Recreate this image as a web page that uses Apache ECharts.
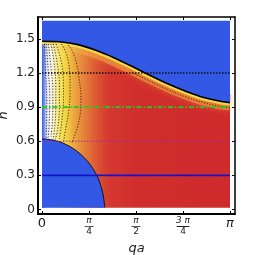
<!DOCTYPE html>
<html><head><meta charset="utf-8">
<script src="https://cdn.jsdelivr.net/npm/echarts@6/dist/echarts.min.js"></script>
<style>html,body{margin:0;padding:0;background:#fff}#c{width:253px;height:255px}</style>
</head><body><div id="c"></div>
<script>
const PI = Math.PI;
// tick positions and labels
const xTicks = [0, PI / 4, PI / 2, 3 * PI / 4, PI];
const xTickLabels = ['0', 'π/4', 'π/2', '3 π/4', 'π'];
const yTicks = [0, 0.3, 0.6, 0.9, 1.2, 1.5];
const yTickLabels = ['0', '0.3', '0.6', '0.9', '1.2', '1.5'];

// upper phase boundary h(qa)
const qaTop = [0, 0.3, 0.6, 0.9, 1.2, 1.5, 1.8, 2.1, 2.4, 2.7, 3.0, PI];
const hTop = [1.48, 1.475, 1.45, 1.40, 1.335, 1.26, 1.18, 1.105, 1.04, 0.985, 0.95, 0.94];

// lower (quarter-circle) phase boundary
const qaCircle = [0, 0.1, 0.2, 0.3, 0.4, 0.5, 0.6, 0.7, 0.8, 0.9, 0.95, 1.0, 1.03, 1.05];
const hCircle = [0.62, 0.617, 0.607, 0.594, 0.572, 0.543, 0.505, 0.458, 0.398, 0.315, 0.26, 0.175, 0.10, 0.015];

// contour lines [qa, h]
const contour1 = [[0.41, 1.465], [0.50, 1.40], [0.58, 1.28], [0.62, 1.15], [0.65, 1.0], [0.64, 0.85], [0.59, 0.72], [0.50, 0.585]];
const contour2 = [[0.30, 1.475], [0.40, 1.38], [0.46, 1.22], [0.47, 1.05], [0.45, 0.88], [0.40, 0.72], [0.36, 0.60]];
const contour3 = [[0.22, 1.478], [0.30, 1.35], [0.35, 1.2], [0.36, 1.0], [0.34, 0.82], [0.29, 0.62]];
const contour4 = [[0.18, 1.478], [0.25, 1.3], [0.29, 1.1], [0.29, 0.9], [0.26, 0.7], [0.22, 0.615]];
const contour5 = [[0.14, 1.479], [0.20, 1.3], [0.23, 1.1], [0.23, 0.9], [0.20, 0.66], [0.18, 0.61]];
const contour6 = [[0.10, 1.48], [0.15, 1.25], [0.18, 1.05], [0.18, 0.85], [0.15, 0.64]];
const contour7 = [[0.07, 1.48], [0.10, 1.25], [0.13, 1.0], [0.12, 0.75], [0.10, 0.62]];
const contour8 = [[0.04, 1.48], [0.06, 1.2], [0.08, 0.95], [0.07, 0.62]];
const contourTop = [[1.5, 1.205], [1.8, 1.13], [2.1, 1.055], [2.4, 0.99], [2.7, 0.94], [3.0, 0.905], [PI, 0.895]];

// horizontal reference cuts
const refLevels = [0.3, 0.6, 0.9, 1.2];
const hMin = 0.015, hMax = 1.66;

const zip = (a, b) => a.map((v, i) => [v, b[i]]);
const topData = zip(qaTop, hTop);
const circleData = zip(qaCircle, hCircle);

const FONT = 'DejaVu Sans';
function xLabel(v) {
  const i = xTicks.findIndex(t => Math.abs(t - v) < 1e-4);
  const s = i >= 0 ? xTickLabels[i] : '';
  if (s.indexOf('/') >= 0) {
    const [num, den] = s.split('/');
    const bar = num.length > 1 ? 'bw' : 'b';
    return '{n|' + num + '}\n{' + bar + '|—}\n{d|' + den + '}';
  }
  if (s === 'π') return '{p|π}';
  return '{z|' + s + '}';
}
function yLabel(v) {
  const i = yTicks.findIndex(t => Math.abs(t - v) < 1e-4);
  return i >= 0 ? yTickLabels[i] : '';
}

const fieldGradient = new echarts.graphic.LinearGradient(0, 0, 1, 0, [
  { offset: 0, color: '#3a5ee0' },
  { offset: 0.012, color: '#7390e8' },
  { offset: 0.025, color: '#dfe5f6' },
  { offset: 0.045, color: '#f8f6ee' },
  { offset: 0.07, color: '#f8f0b0' },
  { offset: 0.095, color: '#f6e460' },
  { offset: 0.13, color: '#f2d040' },
  { offset: 0.165, color: '#eeaa40' },
  { offset: 0.21, color: '#e88a3c' },
  { offset: 0.26, color: '#e06a36' },
  { offset: 0.31, color: '#d94c32' },
  { offset: 0.36, color: '#d4382f' },
  { offset: 0.5, color: '#d02e2d' },
  { offset: 1, color: '#cf2a2c' }
]);
const bandGradient = new echarts.graphic.LinearGradient(0, 0, 1, 0, [
  { offset: 0, color: 'rgba(245,228,130,0.0)' },
  { offset: 0.25, color: 'rgba(240,180,70,0.5)' },
  { offset: 0.5, color: 'rgba(236,140,55,0.75)' },
  { offset: 1, color: 'rgba(236,135,50,0.8)' }
]);
const BLUE = '#3458e6';

function contourSeries(d) {
  return { type: 'line', data: d, smooth: 0.4, symbol: 'none', z: 4, silent: true,
    lineStyle: { color: '#2a1a10', width: 1, type: [1.2, 1.6], opacity: 0.85 } };
}
const refStyles = {
  0.3: { color: '#1414c8', width: 1.6, type: 'solid' },
  0.6: { color: '#9a2aa0', width: 1.1, type: [1.5, 1.5] },
  0.9: { color: '#22cc22', width: 1.6, type: [5, 2, 1.5, 2] },
  1.2: { color: '#111111', width: 1.5, type: [1.5, 1.5] }
};

const series = [
  { type: 'line', data: topData, smooth: 0.3, symbol: 'none', z: 1, silent: true,
    lineStyle: { width: 0 }, areaStyle: { origin: hMin, color: fieldGradient, opacity: 1 } },
  { type: 'line', data: topData, smooth: 0.3, symbol: 'none', z: 2, silent: true,
    lineStyle: { width: 16, color: bandGradient, shadowBlur: 6, shadowColor: 'rgba(236,140,55,0.6)' } },
  { type: 'line', data: topData, smooth: 0.3, symbol: 'none', z: 3, silent: true,
    lineStyle: { width: 6, color: 'rgba(244,222,80,0.9)' } },
  contourSeries(contour1), contourSeries(contour2), contourSeries(contour3), contourSeries(contour4),
  contourSeries(contour5), contourSeries(contour6), contourSeries(contour7), contourSeries(contour8),
  contourSeries(contourTop),
  { type: 'line', data: topData, smooth: 0.3, symbol: 'none', z: 5, silent: true,
    lineStyle: { width: 0 }, areaStyle: { origin: hMax, color: BLUE, opacity: 1 } },
  { type: 'line', data: circleData, smooth: 0.3, symbol: 'none', z: 5, silent: true,
    lineStyle: { width: 1, color: '#111' }, areaStyle: { origin: hMin, color: BLUE, opacity: 1 } },
  { type: 'line', data: topData, smooth: 0.3, symbol: 'none', z: 6, silent: true,
    lineStyle: { width: 1.6, color: '#000' } }
];
refLevels.forEach(h => {
  series.push({ type: 'line', data: [[0, h], [PI, h]], symbol: 'none', z: 7, silent: true,
    lineStyle: refStyles[h] });
});

const xMin = -0.067, xMax = 3.225, yMin = -0.04, yMax = 1.693;
const chart = echarts.init(document.getElementById('c'), null, { renderer: 'canvas' });
chart.setOption({
  animation: false,
  backgroundColor: '#fff',
  grid: { left: 38, top: 17, width: 197, height: 197, show: false, containLabel: false, outerBoundsMode: 'none' },
  xAxis: [
    { type: 'value', min: xMin, max: xMax, position: 'bottom',
      name: 'qa', nameLocation: 'middle', nameGap: 28, nameMoveOverlap: false,
      nameTextStyle: { fontFamily: FONT, fontStyle: 'italic', fontSize: 13, color: '#222' },
      axisLine: { show: true, onZero: false, lineStyle: { color: '#000', width: 2 } },
      axisTick: { show: true, inside: true, length: 3, customValues: xTicks, lineStyle: { color: '#000', width: 1 } },
      axisLabel: { show: true, customValues: xTicks, formatter: xLabel, margin: 3, color: '#222',
        fontFamily: FONT, fontSize: 12,
        rich: {
          n: { fontFamily: FONT, fontSize: 9, lineHeight: 8, fontStyle: 'italic', color: '#222' },
          d: { fontFamily: FONT, fontSize: 9, lineHeight: 8, color: '#222' },
          b: { fontFamily: FONT, fontSize: 10, lineHeight: 3, color: '#222' },
          bw: { fontFamily: FONT, fontSize: 14, lineHeight: 3, color: '#222' },
          p: { fontFamily: FONT, fontSize: 13, lineHeight: 13, fontStyle: 'italic', color: '#222' },
          z: { fontFamily: FONT, fontSize: 13, lineHeight: 13, color: '#222' }
        } },
      splitLine: { show: false } },
    { type: 'value', min: xMin, max: xMax, position: 'top',
      axisLine: { show: true, onZero: false, lineStyle: { color: '#000', width: 1.5 } },
      axisTick: { show: true, inside: true, length: 3, customValues: xTicks, lineStyle: { color: '#000' } },
      axisLabel: { show: false }, splitLine: { show: false } }
  ],
  yAxis: [
    { type: 'value', min: yMin, max: yMax, position: 'left',
      name: 'h', nameLocation: 'middle', nameGap: 28, nameMoveOverlap: false,
      nameTextStyle: { fontFamily: FONT, fontStyle: 'italic', fontSize: 13, color: '#222' },
      axisLine: { show: true, onZero: false, lineStyle: { color: '#000', width: 2 } },
      axisTick: { show: true, inside: true, length: 3, customValues: yTicks, lineStyle: { color: '#000' } },
      axisLabel: { show: true, customValues: yTicks, formatter: yLabel, margin: 3, color: '#222',
        fontFamily: FONT, fontSize: 12 },
      splitLine: { show: false } },
    { type: 'value', min: yMin, max: yMax, position: 'right',
      axisLine: { show: true, onZero: false, lineStyle: { color: '#000', width: 1.5 } },
      axisTick: { show: true, inside: true, length: 3, customValues: yTicks, lineStyle: { color: '#000' } },
      axisLabel: { show: false }, splitLine: { show: false } }
  ],
  series: series
});
</script>
</body></html>
